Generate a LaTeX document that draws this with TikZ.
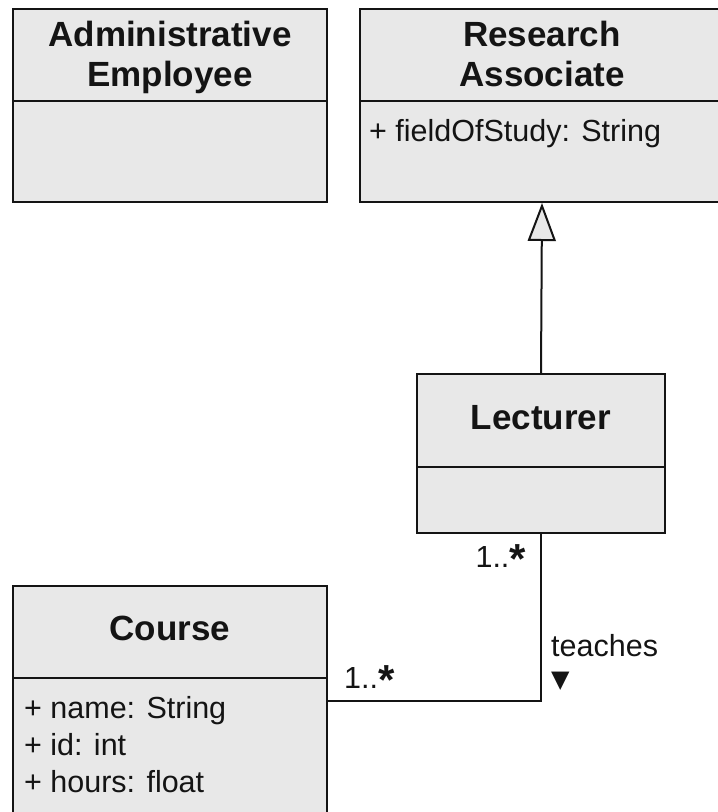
\documentclass[tikz,border=0pt]{standalone}
\usepackage{fontspec}
\setmainfont{Liberation Sans}
\newfontfamily\dejavu{DejaVu Sans}
\usetikzlibrary{arrows.meta}
\definecolor{boxgray}{RGB}{232,232,232}
\definecolor{inkc}{RGB}{20,20,20}
\newcommand\umlstar{\raisebox{-6pt}{\fontsize{42}{42}\selectfont\bfseries *}}
\begin{document}
\begin{tikzpicture}[x=1pt,y=-1pt,
  umlbox/.style={draw=inkc, line width=2pt, fill=boxgray, rectangle, inner sep=0pt},
  divider/.style={draw=inkc, line width=2pt},
  title/.style={font=\bfseries\fontsize{35}{40}\selectfont, align=center, inner sep=0pt, text=inkc},
  attr/.style={font=\fontsize{30.5}{37}\selectfont, anchor=base west, inner sep=0pt, text=inkc},
  mult/.style={font=\fontsize{30.5}{37}\selectfont, inner sep=0pt, text=inkc},
  conn/.style={draw=inkc, line width=2pt}]
\useasboundingbox (0,0) rectangle (718,812);
\clip (0,0) rectangle (718,812);
\fill[white] (0,0) rectangle (718,812);

% Administrative Employee
\node[umlbox, minimum width=314pt, minimum height=193pt, anchor=north west] (admin) at (12,8) {};
\draw[divider] (admin.west |- 0,101) -- (admin.east |- 0,101);
\node[title, anchor=base] (admintitle) at (admin.north |- 0,86) {Administrative\\Employee};

% Research Associate
\node[umlbox, minimum width=364pt, minimum height=193pt, anchor=north west] (research) at (359,8) {};
\draw[divider] (research.west |- 0,101) -- (research.east |- 0,101);
\node[title, anchor=base] (restitle) at (research.north |- 0,86) {Research\\Associate};
\node[attr] (resattr) at (369,141) {+ fieldOfStudy: String};

% Lecturer
\node[umlbox, minimum width=248pt, minimum height=159pt, anchor=north] (lect) at (541,373) {};
\draw[divider] (lect.west |- 0,467) -- (lect.east |- 0,467);
\node[title, anchor=base] (lecttitle) at (541,429) {Lecturer};

% Course
\node[umlbox, minimum width=314pt, minimum height=250pt, anchor=north west] (course) at (12,585) {};
\draw[divider] (course.west |- 0,678) -- (course.east |- 0,678);
\node[title, anchor=base] (coursetitle) at (course.north |- 0,640) {Course};
\node[attr] (ca1) at (24,718) {+ name: String};
\node[attr] (ca2) at (24,755) {+ id: int};
\node[attr] (ca3) at (24,792) {+ hours: float};

% Generalization
\draw[conn, -{Triangle[open, length=38pt, width=28pt, fill=boxgray]}] (lect.north) -- (research.south);

% Association
\coordinate (bend) at (lect.south |- 0,701);
\draw[conn] (lect.south) -- (bend) -- (bend -| course.east);
\node[mult, anchor=base east] (m1) at (526,567) {1..\umlstar};
\node[mult, anchor=base west] (m2) at (344,688) {1..\umlstar};
\node[attr, align=left] (teach) at (551,687) {teaches\\[-6pt]{\dejavu\fontsize{24}{24}\selectfont ▼}};
\end{tikzpicture}
\end{document}
